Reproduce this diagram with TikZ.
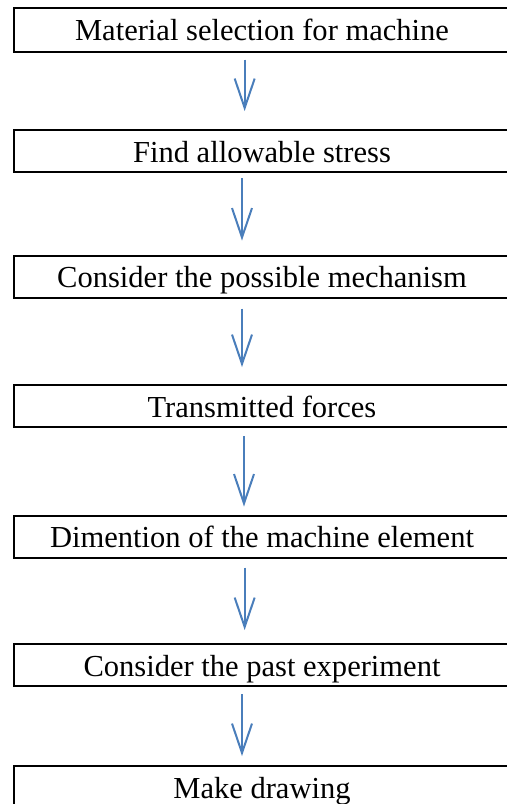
\documentclass[tikz,border=0pt]{standalone}
\usepackage{fontspec}
\setmainfont{Liberation Serif}
\usetikzlibrary{arrows.meta,positioning}

\definecolor{arrowblue}{RGB}{74,126,187}

\tikzset{
  stepbox/.style={draw=black, line width=1.5pt, rectangle, minimum width=390pt,
    minimum height=31.5pt, inner sep=0pt, text height=17pt, text depth=0pt,
    font=\fontsize{22.9}{27}\selectfont, execute at begin node=\hspace*{-18pt}},
  flowarrow/.style={draw=arrowblue, line width=1.5pt,
    -{Straight Barb[length=22pt,width=15pt,line width=1.5pt]}}
}

\begin{document}
\begin{tikzpicture}[x=0.75pt,y=0.75pt,yscale=-1,xscale=1]
\useasboundingbox (0,0) rectangle (507,804);

% Boxes
\node [stepbox, minimum height=33pt] (b1) at (274,29.5) {Material selection for machine};
\node [stepbox] (b2) at (274,151) {Find allowable stress};
\node [stepbox] (b3) at (274,276.5) {Consider the possible mechanism};
\node [stepbox] (b4) at (274,406) {Transmitted forces};
\node [stepbox] (b5) at (274,536.5) {Dimention of the machine element};
\node [stepbox] (b6) at (274,665) {Consider the past experiment};
\node [stepbox] (b7) at (274,787) {Make drawing};

% Arrows
\draw [flowarrow, shorten <=5.25pt, shorten >=13.5pt] ([xshift=-22pt]b1.south) -- ([xshift=-22pt]b2.north);
\draw [flowarrow, shorten <=3.75pt, shorten >=10.5pt] ([xshift=-24pt]b2.south) -- ([xshift=-24pt]b3.north);
\draw [flowarrow, shorten <=7.5pt, shorten >=12.75pt] ([xshift=-24pt]b3.south) -- ([xshift=-24pt]b4.north);
\draw [flowarrow, shorten <=6pt, shorten >=6pt] ([xshift=-22.5pt]b4.south) -- ([xshift=-22.5pt]b5.north);
\draw [flowarrow, shorten <=6.75pt, shorten >=9.75pt] ([xshift=-22pt]b5.south) -- ([xshift=-22pt]b6.north);
\draw [flowarrow, shorten <=5.25pt, shorten >=6.75pt] ([xshift=-24pt]b6.south) -- ([xshift=-24pt]b7.north);

\end{tikzpicture}
\end{document}
